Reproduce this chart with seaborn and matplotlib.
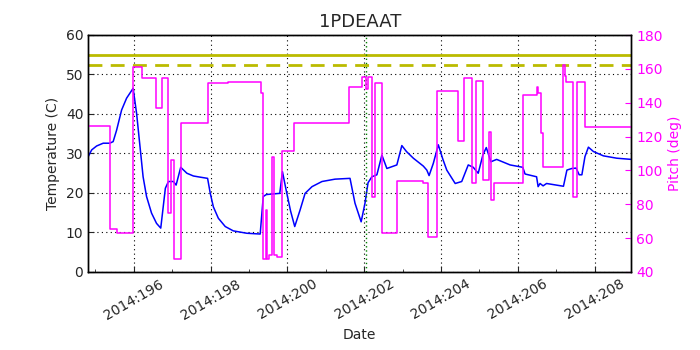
import numpy as np
import pandas as pd
import matplotlib
matplotlib.use('Agg')
import matplotlib.pyplot as plt
import seaborn as sns
from matplotlib.ticker import FuncFormatter, MultipleLocator

# Temperature trace (day of year 2014, deg C)
temp_day = [194.81, 194.90, 195.03, 195.20, 195.37, 195.46, 195.55, 195.68, 195.81, 195.98,
            196.07, 196.16, 196.24, 196.33, 196.46, 196.59, 196.70, 196.82, 196.90, 197.03,
            197.10, 197.22, 197.38, 197.55, 197.73, 197.92, 197.99, 198.07, 198.20, 198.38,
            198.59, 198.94, 199.29, 199.37, 199.45, 199.80, 199.87, 199.95, 200.08, 200.19,
            200.33, 200.46, 200.64, 200.90, 201.24, 201.63, 201.76, 201.92, 202.02, 202.10,
            202.20, 202.33, 202.46, 202.59, 202.85, 202.98, 203.10, 203.28, 203.54, 203.63,
            203.69, 203.80, 203.93, 204.05, 204.15, 204.37, 204.54, 204.71, 204.84, 204.97,
            205.09, 205.18, 205.30, 205.45, 205.80, 206.13, 206.19, 206.49, 206.53, 206.58,
            206.66, 206.75, 207.19, 207.28, 207.41, 207.52, 207.60, 207.67, 207.75, 207.84,
            207.97, 208.23, 208.58, 208.96]
temp_val = [29.2, 30.9, 31.9, 32.6, 32.6, 33.0, 35.9, 41.0, 44.0, 46.5,
            40.2, 31.7, 24.1, 19.1, 14.9, 12.3, 11.1, 21.2, 22.9, 22.9,
            22.0, 26.5, 25.0, 24.3, 24.0, 23.7, 19.9, 16.5, 13.6, 11.5,
            10.4, 9.8, 9.6, 19.1, 19.6, 19.9, 25.4, 21.5, 15.5, 11.5,
            15.7, 19.9, 21.6, 22.9, 23.5, 23.7, 17.4, 12.7, 17.4, 22.6,
            24.1, 24.6, 29.6, 26.2, 27.1, 32.0, 30.5, 28.8, 26.8, 25.8,
            24.4, 27.5, 32.2, 28.5, 25.8, 22.4, 22.9, 27.1, 26.5, 25.0,
            29.6, 31.5, 27.9, 28.5, 27.1, 26.5, 24.8, 24.1, 21.6, 22.4,
            21.8, 22.4, 21.7, 25.8, 26.2, 26.3, 24.6, 24.6, 29.2, 31.6,
            30.5, 29.4, 28.8, 28.5]

# Pitch trace (deg), step changes
pitch_day = [194.81, 195.38, 195.56, 195.99, 196.21, 196.57, 196.73, 196.90, 196.96,
             197.05, 197.22, 197.94, 198.46, 199.31, 199.36, 199.45, 199.48, 199.53,
             199.59, 199.65, 199.74, 199.85, 200.16, 201.61, 201.94, 202.05, 202.11,
             202.20, 202.28, 202.46, 202.86, 203.54, 203.67, 203.89, 204.45, 204.60,
             204.82, 204.91, 205.09, 205.24, 205.30, 205.39, 206.14, 206.49, 206.53,
             206.60, 206.65, 207.19, 207.22, 207.26, 207.44, 207.53, 207.75, 208.96]
pitch_val = [126.2, 65.2, 63.2, 161.3, 154.4, 136.7, 154.4, 74.7, 106.2,
             47.5, 127.8, 151.8, 152.4, 146.0, 47.5, 76.6, 47.5, 50.0,
             108.1, 50.0, 49.0, 111.6, 127.8, 149.5, 155.3, 148.0, 155.3,
             84.1, 151.8, 63.2, 93.5, 92.5, 60.9, 147.1, 117.6, 154.5,
             92.8, 153.1, 94.3, 122.9, 82.5, 92.8, 144.5, 149.5, 146.0,
             121.9, 101.8, 162.0, 156.0, 152.0, 84.5, 152.4, 125.5, 125.5]

planning_limit = 55.0
caution_limit = 52.5
event_day = 202.05

temp_df = pd.DataFrame({'day': temp_day, 'temp': temp_val})
pitch_df = pd.DataFrame({'day': pitch_day, 'pitch': pitch_val})

sns.set_style('ticks')
plt.rcParams['font.family'] = ['DejaVu Sans']

fig = plt.figure(figsize=(7, 3.5), dpi=100)
ax = fig.add_axes([0.126, 0.223, 0.776, 0.677])

sns.lineplot(data=temp_df, x='day', y='temp', ax=ax, color='blue', linewidth=1.1,
             estimator=None, sort=False)
ax.axhline(planning_limit, color='#bbbb00', linewidth=2)
ax.axhline(caution_limit, color='#bbbb00', linewidth=2, linestyle='--', dashes=(5, 3))
ax.axvline(event_day, color='green', linestyle=(0, (1, 2)), linewidth=1)

ax.set_xlim(194.81, 208.96)
ax.set_ylim(0, 60)
ax.xaxis.set_major_locator(MultipleLocator(2))
ax.xaxis.set_minor_locator(MultipleLocator(1))
ax.xaxis.set_major_formatter(FuncFormatter(lambda v, p: f'2014:{int(round(v)):03d}'))
ax.grid(True, which='major', color='black', linestyle=(0, (1, 3)), linewidth=0.8)
ax.tick_params(direction='in', which='both', labelsize=10)
ax.tick_params(which='major', length=4)
ax.tick_params(which='minor', length=2)
for lab in ax.get_xticklabels():
    lab.set_rotation(30)
    lab.set_ha('center')
ax.set_xlabel('Date', fontsize=10)
ax.set_ylabel('Temperature (C)', fontsize=10)
ax.set_title('1PDEAAT', fontsize=13)

ax2 = ax.twinx()
sns.lineplot(data=pitch_df, x='day', y='pitch', ax=ax2, color='magenta', linewidth=1.1,
             estimator=None, sort=False, drawstyle='steps-post')
ax2.set_ylim(40, 180)
ax2.set_xlim(194.81, 208.96)
ax2.set_ylabel('Pitch (deg)', color='magenta', fontsize=10)
ax2.tick_params(axis='y', colors='magenta', direction='in', labelsize=10, length=4)
ax2.grid(False)

for a in (ax, ax2):
    for s in a.spines.values():
        s.set_color('black')
        s.set_linewidth(1)

fig.savefig('out.png', dpi=100)
